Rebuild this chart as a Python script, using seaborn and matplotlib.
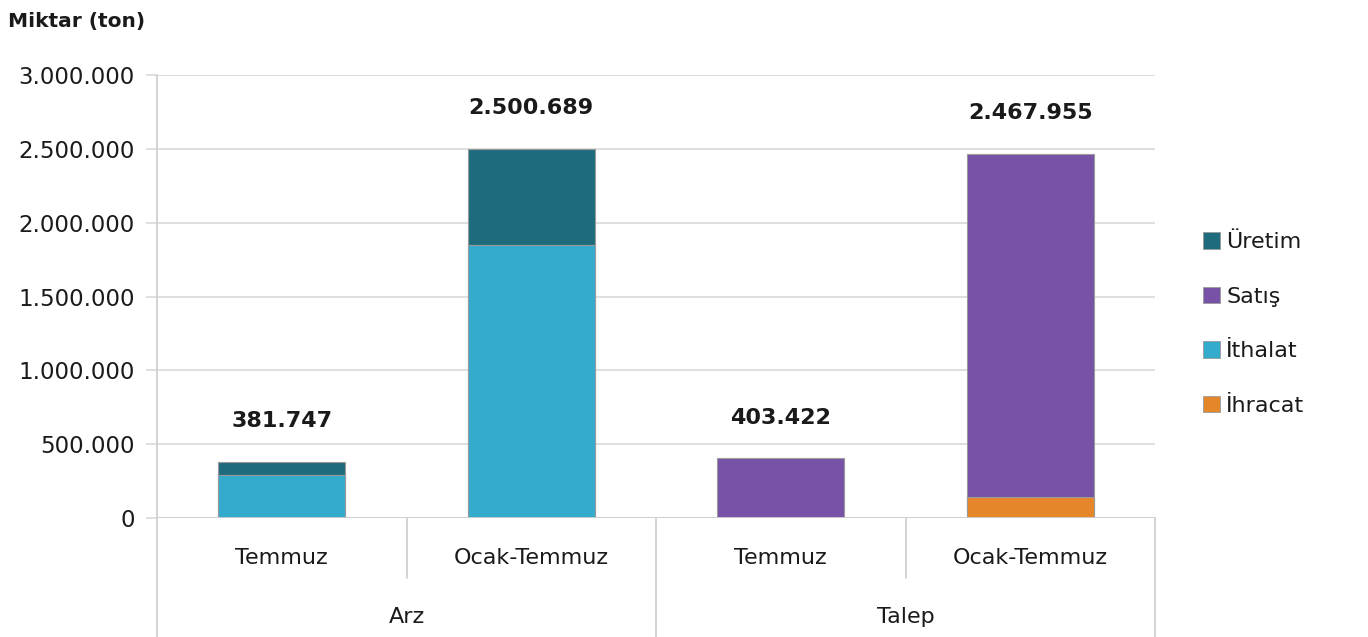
import matplotlib
matplotlib.use("Agg")
import matplotlib.pyplot as plt
import matplotlib.transforms as mtransforms
from matplotlib.patches import Patch
import seaborn as sns
import pandas as pd
import numpy as np

# ---- data ----
groups = ["Arz", "Arz", "Talep", "Talep"]
periods = ["Temmuz", "Ocak-Temmuz", "Temmuz", "Ocak-Temmuz"]
ithalat = [290000, 1850000, 0, 0]
uretim = [91747, 650689, 0, 0]
ihracat = [0, 0, 0, 140000]
satis = [0, 0, 403422, 2327955]
totals = [381747, 2500689, 403422, 2467955]
total_labels = ["381.747", "2.500.689", "403.422", "2.467.955"]
yticks = [0, 500000, 1000000, 1500000, 2000000, 2500000, 3000000]
ytick_labels = ["0", "500.000", "1.000.000", "1.500.000", "2.000.000", "2.500.000", "3.000.000"]
legend_names = ["Üretim", "Satış", "İthalat", "İhracat"]

colors = {"Üretim": "#1f6b7e", "Satış": "#7852a6", "İthalat": "#34abcd", "İhracat": "#e5862a"}

sns.set_theme(style="white")
plt.rcParams["font.family"] = ["DejaVu Sans"]

df = pd.DataFrame({
    "cat": [f"{g}|{p}|{i}" for i, (g, p) in enumerate(zip(groups, periods))],
    "ithalat": ithalat, "uretim": uretim, "ihracat": ihracat, "satis": satis,
})
df["bottom1"] = df["ithalat"] + df["ihracat"]
df["top"] = df["bottom1"] + df["uretim"] + df["satis"]

fig = plt.figure(figsize=(13.68, 6.37), dpi=100)
ax = fig.add_axes([157 / 1368, 1 - 518 / 637, (1155 - 157) / 1368, 443 / 637])

order = list(df["cat"])
bw = 0.51
top_colors = [colors["Üretim"] if u > 0 else colors["Satış"] for u in uretim]
sns.barplot(data=df, x="cat", y="top", order=order, hue="cat", palette=top_colors,
            legend=False, width=bw, ax=ax, edgecolor="#9a9a9a", linewidth=0.8, saturation=1)
bot_colors = [colors["İthalat"] if it > 0 else colors["İhracat"] for it in ithalat]
sns.barplot(data=df, x="cat", y="bottom1", order=order, hue="cat", palette=bot_colors,
            legend=False, width=bw, ax=ax, edgecolor="#9a9a9a", linewidth=0.8, saturation=1)

ax.set_xlim(-0.5, 3.5)
ax.set_ylim(0, 3000000)
ax.set_yticks(yticks)
ax.set_yticklabels(ytick_labels, fontsize=16.5, color="#1a1a1a")
ax.set_xticks([])
ax.set_xlabel("")
ax.set_ylabel("")
for s in ax.spines.values():
    s.set_visible(False)
ax.yaxis.grid(True, color="#d9d9d9", linewidth=1.2)
ax.set_axisbelow(True)
ax.tick_params(axis="y", length=8, color="#d9d9d9", width=1.2, pad=8, left=True)

# data labels
for i, (t, lab) in enumerate(zip(totals, total_labels)):
    ax.annotate(lab, xy=(i, t), xytext=(0, 29), textcoords="offset points",
                ha="center", va="center", fontsize=16, fontweight="bold", color="#1a1a1a")

# multi-level category axis
trans = mtransforms.blended_transform_factory(ax.transData, ax.transAxes)
for i, p in enumerate(periods):
    ax.text(i, -0.0903, p, transform=trans, ha="center", va="center", fontsize=16, color="#1a1a1a")
for gname, xc in [("Arz", 0.5), ("Talep", 2.5)]:
    ax.text(xc, -0.2235, gname, transform=trans, ha="center", va="center", fontsize=16, color="#1a1a1a")
line_kw = dict(color="#d0d0d0", linewidth=1.3, transform=trans, clip_on=False)
ax.plot([-0.5, -0.5], [1.0, -0.27], **line_kw)
ax.plot([3.5, 3.5], [0.0, -0.27], **line_kw)
ax.plot([1.5, 1.5], [0.0, -0.27], **line_kw)
ax.plot([0.5, 0.5], [0.0, -0.135], **line_kw)
ax.plot([2.5, 2.5], [0.0, -0.135], **line_kw)
ax.axhline(0, color="#d0d0d0", linewidth=1.3)

fig.text(8 / 1368, 1 - 22 / 637, "Miktar (ton)", fontsize=14.5, fontweight="bold",
         color="#1a1a1a", ha="left", va="center")

handles = [Patch(facecolor=colors[n], edgecolor="#9a9a9a", linewidth=0.6) for n in legend_names]
leg = fig.legend(handles, legend_names, loc="center left", bbox_to_anchor=(1203 / 1368, 1 - 324 / 637),
                 frameon=False, fontsize=16, handlelength=0.75, handleheight=0.75,
                 labelspacing=1.55, handletextpad=0.3, borderaxespad=0, borderpad=0)
for t in leg.get_texts():
    t.set_color("#1a1a1a")

fig.savefig("out.png", dpi=100)
